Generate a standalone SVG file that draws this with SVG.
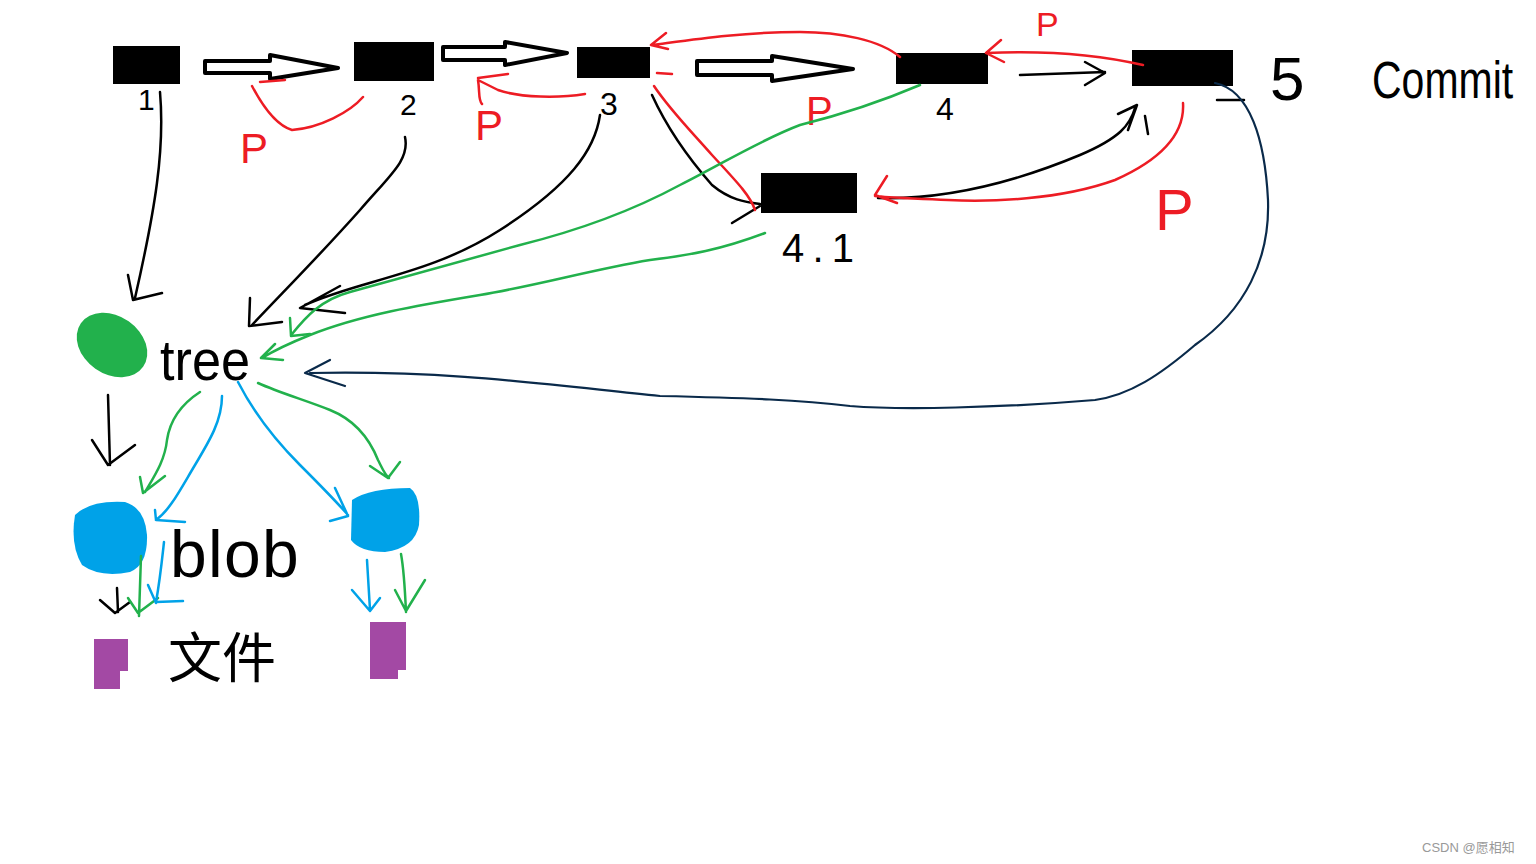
<svg xmlns="http://www.w3.org/2000/svg" width="1536" height="864" viewBox="0 0 1536 864">
<style>
.k{fill:none;stroke:#000;stroke-width:2.5;stroke-linecap:round;stroke-linejoin:round}
.r{fill:none;stroke:#ed1c24;stroke-width:2.5;stroke-linecap:round;stroke-linejoin:round}
.g{fill:none;stroke:#22b14c;stroke-width:2.5;stroke-linecap:round;stroke-linejoin:round}
.b{fill:none;stroke:#00a2e8;stroke-width:2.5;stroke-linecap:round;stroke-linejoin:round}
.n{fill:none;stroke:#0a2a4a;stroke-width:2.2;stroke-linecap:round;stroke-linejoin:round}
.h{fill:#fff;stroke:#000;stroke-width:4;stroke-linejoin:round}
.t{font-family:"Liberation Sans","Noto Sans CJK SC",sans-serif;fill:#000}
.p{font-family:"Liberation Sans",sans-serif;fill:#ed1c24}
.box{fill:#000}
</style>
<rect width="1536" height="864" fill="#fff"/>
<g id="commit1"><rect class="box" x="113" y="46" width="67" height="38"/><text class="t" x="138" y="110" font-size="30">1</text></g>
<g id="commit2"><rect class="box" x="354" y="42" width="80" height="39"/><text class="t" x="400" y="115" font-size="30">2</text></g>
<g id="commit3"><rect class="box" x="577" y="47" width="73" height="31"/><text class="t" x="600" y="115" font-size="32">3</text></g>
<g id="commit4"><rect class="box" x="896" y="53" width="92" height="31"/><text class="t" x="936" y="120" font-size="32">4</text></g>
<g id="commit5"><rect class="box" x="1132" y="50" width="101" height="36"/><text class="t" x="1270" y="100" font-size="62">5</text></g>
<g id="commit41"><rect class="box" x="761" y="173" width="96" height="40"/><text class="t" x="782" y="262" font-size="40" textLength="72" lengthAdjust="spacing">4.1</text></g>
<g id="label-commit"><text class="t" x="0" y="0" font-size="41" transform="translate(1372,98) scale(1,1.25)">Commit</text></g>
<g id="tree"><ellipse cx="112" cy="345" rx="38" ry="29" transform="rotate(35 112 345)" fill="#22b14c"/><text class="t" x="160" y="380" font-size="58" textLength="90" lengthAdjust="spacingAndGlyphs">tree</text></g>
<g id="blob1"><path d="M75,515 Q90,500 125,502 Q145,508 147,535 Q148,565 130,572 Q100,578 82,565 Q70,545 75,515 Z" fill="#00a2e8"/><text class="t" x="170 208 224 262" y="577" font-size="66">blob</text></g>
<g id="blob2"><path d="M352,500 Q370,488 410,488 Q421,495 419,525 Q415,548 385,552 Q360,552 351,540 Z" fill="#00a2e8"/></g>
<g id="file1"><polygon points="94,639 128,639 128,671 120,671 120,689 94,689" fill="#a349a4"/><text class="t" x="168" y="678" font-size="54">文件</text></g>
<g id="file2"><polygon points="370,622 406,622 406,670 398,670 398,679 370,679" fill="#a349a4"/></g>
<g id="p-labels">
<text class="p" x="240" y="163" font-size="42">P</text>
<text class="p" x="475" y="140" font-size="42">P</text>
<text class="p" x="806" y="125" font-size="40">P</text>
<text class="p" x="1036" y="36" font-size="34">P</text>
<text class="p" x="1155" y="230" font-size="58">P</text>
</g>
<g id="connectors">
<path class="h" d="M205,61 L270,61 L270,55 L338,68 L270,79 L270,73 L205,73 Z"/>
<path class="h" d="M443,47 L505,47 L505,42 L567,53 L505,65 L505,60 L443,60 Z"/>
<path class="h" d="M697,61 L772,61 L772,56 L853,69 L772,81 L772,75 L697,75 Z"/>
<path class="k" d="M1020,75 L1105,72 M1085,62 L1105,73 L1085,85"/>
<path class="k" d="M160,92 C165,150 155,210 135,298 M128,275 L133,300 L162,293"/>
<path class="k" d="M405,137 C410,160 390,175 360,210 C320,255 285,290 252,325 M250,298 L249,326 L282,322"/>
<path class="k" d="M600,115 C595,150 570,185 500,230 C430,275 360,280 305,305 M340,286 L300,308 L345,313"/>
<path class="k" d="M652,95 C668,130 690,160 712,185 C730,200 745,202 760,204 M732,223 L760,206"/>
<path class="k" d="M878,198 C950,200 1020,180 1080,155 C1120,138 1130,125 1135,108 M1118,114 L1137,105 L1128,130 M1145,116 L1148,134"/>
<path class="k" d="M108,395 L110,465 M92,440 L108,465 L135,445"/>
<path class="k" d="M117,588 L118,612 M100,600 L115,613 L130,602"/>
<path class="k" d="M1217,100 L1244,100"/>
<path class="n" d="M1215,83 C1250,90 1265,140 1268,200 C1270,260 1245,310 1195,345 C1160,375 1130,395 1095,400 C1000,408 900,410 850,406 C800,400 750,398 660,396 C550,385 450,370 310,373 M330,360 L305,373 L345,386"/>
<path class="r" d="M363,97 C350,112 320,128 292,130 C275,125 262,105 252,86 M260,82 L285,80"/>
<path class="r" d="M585,94 C560,98 520,98 498,90 L478,80 C480,92 478,100 482,104 M478,78 L508,74"/>
<path class="r" d="M900,57 C880,40 840,32 800,32 C740,32 690,40 652,45 M666,33 L651,45 L668,49"/>
<path class="r" d="M1143,65 C1100,55 1050,50 986,53 M1001,40 L986,53 L1004,62"/>
<path class="r" d="M654,86 C670,110 690,130 712,155 C735,180 750,195 755,210 M657,73 L672,74"/>
<path class="r" d="M1183,103 C1185,135 1160,160 1115,180 C1060,200 990,202 948,200 C910,198 890,198 875,196 M887,176 L875,195 L897,203"/>
<path class="g" d="M920,85 C880,102 840,115 800,125 C760,140 720,165 680,185 C630,212 580,230 520,245 C460,262 400,278 350,292 C320,300 305,318 292,334 M290,318 L291,336 L310,334"/>
<path class="g" d="M765,233 C720,250 690,255 650,260 C590,270 540,285 480,295 C420,305 360,315 310,335 C290,343 275,350 262,358 M275,344 L261,358 L283,360"/>
<path class="g" d="M200,392 C180,405 170,420 167,440 C165,460 155,475 145,492 M140,477 L143,493 L165,476"/>
<path class="g" d="M258,383 C280,393 305,400 330,410 C355,420 370,440 378,460 C383,470 385,475 389,478 M370,466 L388,478 L400,462"/>
<path class="g" d="M141,556 L139,616 M128,598 L138,613 L158,598"/>
<path class="g" d="M401,554 C404,570 405,590 406,612 M395,590 L406,611 L425,580"/>
<path class="b" d="M222,396 C222,420 210,440 195,465 C180,490 170,510 156,520 L185,522 M155,510 L156,520"/>
<path class="b" d="M238,382 C255,415 275,440 300,465 C320,485 335,500 348,515 M335,488 L348,516 L330,521"/>
<path class="b" d="M164,542 C162,560 160,580 156,602 L183,601 M148,585 L156,603"/>
<path class="b" d="M367,560 L370,610 M352,590 L370,611 L380,598"/>
</g>
<g id="watermark"><text x="1422" y="852" font-family="Liberation Sans,'Noto Sans CJK SC',sans-serif" font-size="13" fill="#999">CSDN @愿相知</text></g>
</svg>
